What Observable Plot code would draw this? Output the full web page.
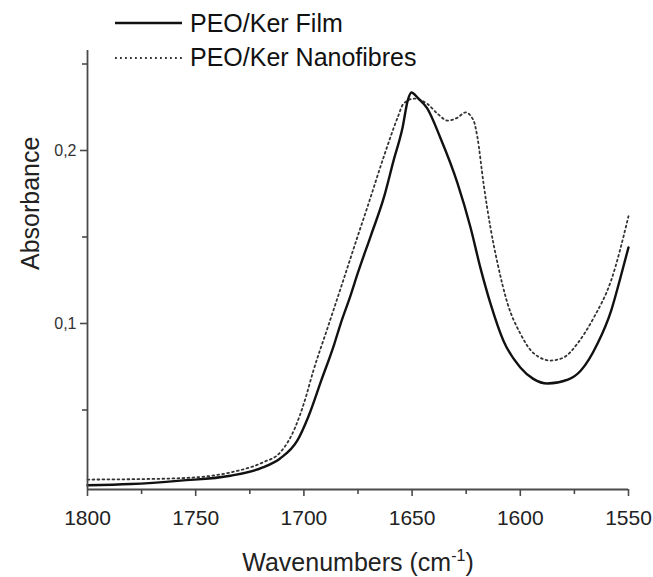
<!DOCTYPE html>
<html><head><meta charset="utf-8">
<script src="https://cdn.jsdelivr.net/npm/d3@7"></script>
<script src="https://cdn.jsdelivr.net/npm/@observablehq/plot@0.6"></script>
<style>
html,body{margin:0;padding:0;background:#fff;}
#wrap{position:relative;width:653px;height:577px;font-family:"Liberation Sans",Arial,sans-serif;}
#legend{position:absolute;left:115px;top:6px;font-size:25px;color:#111;z-index:2;}
.row{display:flex;align-items:center;height:34.5px;white-space:nowrap;}
.row svg{margin-right:8px;display:block;}
</style></head>
<body><div id="wrap"><div id="legend"></div></div>
<script>
// ---- data ----
const seriesNames = ["PEO/Ker Film", "PEO/Ker Nanofibres"];
const wnFilm = [1800,1780,1757,1734,1719,1711,1703,1698,1692,1686,1683,1678.5,1675,1669,1663,1658.6,1654.4,1652,1650.3,1647.5,1643,1637,1629,1623,1618.4,1613.8,1607.8,1600,1594,1587.4,1578,1572,1564.3,1558,1553.7,1550];
const absFilm = [0.0065,0.0072,0.0092,0.012,0.0168,0.022,0.0324,0.046,0.067,0.088,0.1,0.116,0.1295,0.151,0.173,0.194,0.2133,0.229,0.2335,0.2306,0.2243,0.2075,0.181,0.1555,0.132,0.1116,0.090,0.0746,0.068,0.0653,0.0675,0.0728,0.0884,0.1075,0.1266,0.144];
const wnNano = [1800,1780,1757,1734,1719,1711,1704,1700,1695.6,1689,1684.5,1680.8,1675,1670.6,1663.2,1656.7,1654,1649,1643,1638,1633.6,1629,1625.3,1621.6,1619.8,1617,1613.8,1610.5,1605.9,1600,1594,1586,1580,1573.6,1566,1558,1550];
const absNano = [0.0098,0.0100,0.0106,0.0139,0.0197,0.0254,0.040,0.0538,0.0728,0.0977,0.1147,0.1288,0.151,0.1675,0.196,0.219,0.227,0.230,0.227,0.221,0.2173,0.219,0.222,0.2173,0.2075,0.181,0.1555,0.1347,0.1116,0.0942,0.083,0.0786,0.0803,0.0884,0.1035,0.125,0.162];
const xDomain = [1800, 1550];
const yDomain = [0.00405, 0.2578];
const xTicks = [1800,1750,1700,1650,1600,1550];
const xMinorTicks = [1775,1725,1675,1625,1575];
const yTicks = [0.1, 0.2];
const yTickLabels = ["0,1", "0,2"];
const yMinorTicks = [0.05, 0.15, 0.25];
const xTitle = "Wavenumbers (cm-1)";
const yTitle = "Absorbance";

const film = wnFilm.map((w, i) => ({w, a: absFilm[i]}));
const nano = wnNano.map((w, i) => ({w, a: absNano[i]}));
const FONT = "Liberation Sans, Arial, sans-serif";
const AX = "#4a4a4a";

const chart = Plot.plot({
  width: 653, height: 577,
  marginLeft: 87, marginRight: 25, marginTop: 50, marginBottom: 88,
  style: {fontFamily: FONT, background: "white", color: "#222", overflow: "visible"},
  x: {domain: xDomain},
  y: {domain: yDomain},
  marks: [
    Plot.line(nano, {x: "w", y: "a", stroke: "#333", strokeWidth: 1.8, strokeDasharray: "1.8 3.2", curve: "monotone-x"}),
    Plot.line(film, {x: "w", y: "a", stroke: "#111", strokeWidth: 2.4, curve: "monotone-x"}),
    Plot.ruleY([yDomain[0]], {stroke: AX, strokeWidth: 1.8}),
    Plot.ruleX([xDomain[0]], {stroke: AX, strokeWidth: 1.8}),
    Plot.axisX({ticks: xTicks, tickSize: 7, tickPadding: 14, fontSize: 21, stroke: AX, strokeWidth: 1.6, label: null, tickFormat: d => String(d), fill: "#222"}),
    Plot.axisX({ticks: xMinorTicks, tickSize: 5, stroke: AX, strokeWidth: 1.6, label: null, tickFormat: () => ""}),
    Plot.axisY({ticks: yTicks, tickSize: 7, tickPadding: 4, fontSize: 16, stroke: AX, strokeWidth: 1.6, label: null, tickFormat: d => yTickLabels[yTicks.indexOf(d)], fill: "#333"}),
    Plot.axisY({ticks: yMinorTicks, tickSize: 5, stroke: AX, strokeWidth: 1.6, label: null, tickFormat: () => ""}),
    Plot.text([yTitle], {frameAnchor: "left", rotate: -90, dx: -57, fontSize: 25, fill: "#222"}),
    Plot.text([xTitle], {frameAnchor: "bottom", dy: 81, fontSize: 25, fill: "#222"})
  ]
});
document.getElementById("wrap").appendChild(chart);

// superscript in x title
chart.querySelectorAll("text").forEach(t => {
  if (t.textContent === xTitle) {
    t.textContent = "";
    const ns = "http://www.w3.org/2000/svg";
    const a = document.createElementNS(ns, "tspan"); a.textContent = "Wavenumbers (cm";
    const b = document.createElementNS(ns, "tspan"); b.textContent = "-1"; b.setAttribute("font-size", "16"); b.setAttribute("dy", "-10");
    const c = document.createElementNS(ns, "tspan"); c.textContent = ")"; c.setAttribute("dy", "10");
    t.append(a, b, c);
  }
});

// legend
const legend = document.getElementById("legend");
const styles = [{dash: null, w: 2.4, c: "#111"}, {dash: "1.8 3.2", w: 1.8, c: "#333"}];
seriesNames.forEach((name, i) => {
  const row = document.createElement("div"); row.className = "row";
  const s = styles[i];
  row.innerHTML = `<svg width="67" height="10"><line x1="0" x2="67" y1="5" y2="5" stroke="${s.c}" stroke-width="${s.w}" ${s.dash ? `stroke-dasharray="${s.dash}"` : ""}/></svg><span>${name}</span>`;
  legend.appendChild(row);
});
</script>
</body></html>
